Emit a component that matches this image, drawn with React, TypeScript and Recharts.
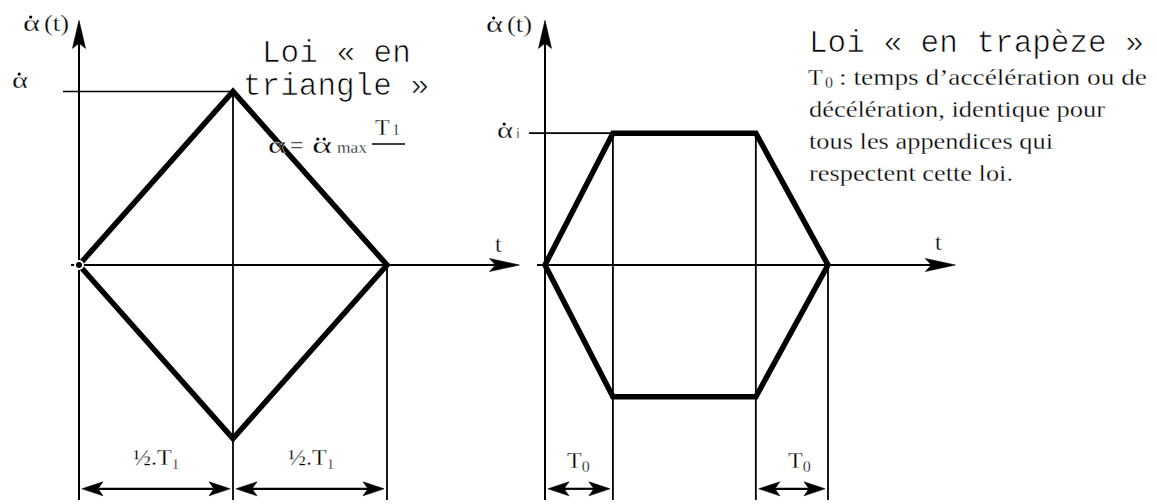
import type { ReactNode } from "react";
import { Line, LineChart, ReferenceLine, XAxis, YAxis } from "recharts";

const SERIF = "Liberation Serif, Tinos, Times New Roman, serif";
const MONO = "Liberation Mono, Cousine, Courier New, monospace";

// Loi « en triangle » : t in units of T1, speed in units of α̇ max
const triangleT = [0, 0.5, 1, 0.5, 0];
const triangleSpeed = [0, 1, 0, -1, 0];

// Loi « en trapèze » : t in units of the whole move, same speed unit
const trapezeT = [0, 0.24, 0.745, 1, 0.745, 0.24, 0];
const trapezeSpeed = [0, 0.76, 0.76, 0, -0.76, -0.76, 0];

// axis ends and dimension-line level, in data units
const AXIS_TOP = 1.41;
const AXIS_BOTTOM = -1.355;
const DIM_LEVEL = -1.29;
const TRIANGLE_T_END = 1.43;
const TRAPEZE_T_END = 1.45;

const H = 504;
const ZERO_Y = 265;
const PX_PER_SPEED = 173.5;
const speedDomain: [number, number] = [-(H - ZERO_Y) / PX_PER_SPEED, ZERO_Y / PX_PER_SPEED];

type ArrowOpts = {
  width: number;
  start?: boolean;
  end?: boolean;
  len?: number;
  half?: number;
  notch?: number;
  inset?: number;
  extendStart?: number;
};

function arrowShape(o: ArrowOpts) {
  return (p: any) => {
    const { x1, y1, x2, y2 } = p;
    const dx = x2 - x1;
    const dy = y2 - y1;
    const L = Math.hypot(dx, dy) || 1;
    const ux = dx / L;
    const uy = dy / L;
    const nx = -uy;
    const ny = ux;
    const inset = o.inset ?? 0;
    const ext = o.extendStart ?? 0;
    const sx = x1 + ux * (inset - ext);
    const sy = y1 + uy * (inset - ext);
    const ex = x2 - ux * inset;
    const ey = y2 - uy * inset;
    const len = o.len ?? 20;
    const half = o.half ?? 6;
    const notch = o.notch ?? 4;
    const head = (tx: number, ty: number, dx1: number, dy1: number) =>
      [
        [tx, ty],
        [tx - len * dx1 + half * nx, ty - len * dy1 + half * ny],
        [tx - (len - notch) * dx1, ty - (len - notch) * dy1],
        [tx - len * dx1 - half * nx, ty - len * dy1 - half * ny],
      ]
        .map((q) => q.join(","))
        .join(" ");
    const cut = len - notch;
    return (
      <g>
        <line
          x1={o.start ? sx + ux * cut : sx}
          y1={o.start ? sy + uy * cut : sy}
          x2={o.end ? ex - ux * cut : ex}
          y2={o.end ? ey - uy * cut : ey}
          stroke="#000"
          strokeWidth={o.width}
        />
        {o.end ? <polygon points={head(ex, ey, ux, uy)} fill="#000" stroke="#000" strokeWidth={0.6} strokeLinejoin="round" /> : null}
        {o.start ? <polygon points={head(sx, sy, -ux, -uy)} fill="#000" stroke="#000" strokeWidth={0.6} strokeLinejoin="round" /> : null}
      </g>
    );
  };
}

type PanelProps = {
  left: number;
  width: number;
  originX: number;
  pxPerT: number;
  ts: number[];
  speeds: number[];
  tEnd: number;
  dims: [number, number][];
};

function LawPanel({ left, width, originX, pxPerT, ts, speeds, tEnd, dims }: PanelProps) {
  const data = ts.map((t, i) => ({ t, v: speeds[i] }));
  const tDomain: [number, number] = [-originX / pxPerT, (width - originX) / pxPerT];
  const peak = Math.max(...speeds);
  const peakT = ts[speeds.indexOf(peak)];
  const guides = data.filter((d, i) => d.t > 0 && d.v >= 0 && ts.indexOf(d.t) === i);

  return (
    <div style={{ position: "absolute", left, top: 0 }}>
      <LineChart width={width} height={H} data={data} margin={{ top: 0, right: 0, bottom: 0, left: 0 }}>
        <XAxis type="number" dataKey="t" domain={tDomain} allowDataOverflow hide />
        <YAxis type="number" domain={speedDomain} allowDataOverflow hide />
        {/* speed axis */}
        <ReferenceLine
          ifOverflow="visible"
          segment={[{ x: 0, y: AXIS_BOTTOM }, { x: 0, y: AXIS_TOP }]}
          shape={arrowShape({ width: 2, end: true, len: 28, half: 6.5, notch: 5 })}
        />
        {/* time axis */}
        <ReferenceLine
          ifOverflow="visible"
          segment={[{ x: 0, y: 0 }, { x: tEnd, y: 0 }]}
          shape={arrowShape({ width: 2, end: true, len: 30, half: 6.5, notch: 6, extendStart: 8 })}
        />
        {/* peak level */}
        <ReferenceLine
          ifOverflow="visible"
          segment={[{ x: 0, y: peak }, { x: peakT, y: peak }]}
          shape={arrowShape({ width: 1.6, extendStart: 16 })}
        />
        {guides.map((g) => (
          <ReferenceLine
            key={g.t}
            ifOverflow="visible"
            segment={[{ x: g.t, y: g.v }, { x: g.t, y: AXIS_BOTTOM }]}
            shape={arrowShape({ width: 1.8 })}
          />
        ))}
        {dims.map(([a, b]) => (
          <ReferenceLine
            key={`${a}-${b}`}
            ifOverflow="visible"
            segment={[{ x: a, y: DIM_LEVEL }, { x: b, y: DIM_LEVEL }]}
            shape={arrowShape({ width: 2.2, start: true, end: true, len: 21, half: 7, notch: 5, inset: 3 })}
          />
        ))}
        <Line
          type="linear"
          dataKey="v"
          stroke="#000"
          strokeWidth={5.5}
          strokeLinejoin="miter"
          strokeLinecap="round"
          strokeMiterlimit={3}
          dot={false}
          isAnimationActive={false}
        />
      </LineChart>
    </div>
  );
}

function Txt({
  x,
  y,
  size = 24,
  family = SERIF,
  len,
  thin = 0.3,
  children,
}: {
  x: number;
  y: number;
  size?: number;
  family?: string;
  len?: number;
  thin?: number;
  children: ReactNode;
}) {
  return (
    <text
      x={x}
      y={y}
      fill="#000"
      textLength={len}
      lengthAdjust={len ? "spacingAndGlyphs" : undefined}
      stroke={thin ? "#fff" : undefined}
      strokeWidth={thin || undefined}
      style={{ fontFamily: family, fontSize: size }}
    >
      {children}
    </text>
  );
}

// α with one or two dots above (time derivatives)
function Alpha({ x, y, w = 16, size = 24, dots = 1 }: { x: number; y: number; w?: number; size?: number; dots?: number }) {
  const cx = x + w * 0.45;
  const cy = y - size * 0.58;
  const offs = dots === 1 ? [0] : [-3.2, 3.2];
  return (
    <g>
      <Txt x={x} y={y} size={size} len={w}>
        α
      </Txt>
      {offs.map((o) => (
        <circle key={o} cx={cx + o} cy={cy} r={1.6} fill="#000" />
      ))}
    </g>
  );
}

export default function App() {
  return (
    <div style={{ position: "absolute", left: 0, top: 0, width: 1157, height: H, background: "#fff" }}>
      <LawPanel
        left={0}
        width={520}
        originX={79}
        pxPerT={308}
        ts={triangleT}
        speeds={triangleSpeed}
        tEnd={TRIANGLE_T_END}
        dims={[
          [triangleT[0], triangleT[1]],
          [triangleT[1], triangleT[2]],
        ]}
      />
      <LawPanel
        left={520}
        width={637}
        originX={25}
        pxPerT={283}
        ts={trapezeT}
        speeds={trapezeSpeed}
        tEnd={TRAPEZE_T_END}
        dims={[
          [trapezeT[0], trapezeT[1]],
          [trapezeT[2], trapezeT[3]],
        ]}
      />
      <svg width={1157} height={H} style={{ position: "absolute", left: 0, top: 0, pointerEvents: "none" }}>
        {/* left diagram */}
        <Alpha x={23} y={31} w={17} />
        <Txt x={44} y={31} len={25}>(t)</Txt>
        <Alpha x={12} y={88} w={16} />
        <Txt x={262} y={62} size={31} family={MONO} thin={0.7}>Loi « en</Txt>
        <Txt x={243} y={95} size={31} family={MONO} thin={0.7}>triangle »</Txt>
        <Alpha x={268} y={153} w={18} />
        <Txt x={290} y={153}>=</Txt>
        <Alpha x={312} y={153} w={20} dots={2} />
        <Txt x={337} y={153} size={16} len={30}>max</Txt>
        <line x1={372} y1={144} x2={405} y2={144} stroke="#000" strokeWidth={1.5} />
        <Txt x={375} y={135}>T</Txt>
        <Txt x={392} y={135} size={16}>1</Txt>
        <Txt x={495} y={252}>t</Txt>
        <Txt x={133} y={465}>
          ½.T<tspan fontSize={15} dy={4}>1</tspan>
        </Txt>
        <Txt x={288} y={465}>
          ½.T<tspan fontSize={15} dy={4}>1</tspan>
        </Txt>

        {/* right diagram */}
        <Alpha x={486} y={32} w={17} />
        <Txt x={507} y={32} len={25}>(t)</Txt>
        <Alpha x={497} y={138} w={16} />
        <Txt x={516} y={138} size={14}>i</Txt>
        <Txt x={935} y={250}>t</Txt>
        <Txt x={567} y={468}>
          T<tspan fontSize={16} dy={4}>0</tspan>
        </Txt>
        <Txt x={788} y={468}>
          T<tspan fontSize={16} dy={4}>0</tspan>
        </Txt>
        <Txt x={809} y={52} size={31} family={MONO} thin={0.7}>Loi « en trapèze »</Txt>
        <Txt x={808} y={85}>T</Txt>
        <Txt x={825} y={88} size={16}>0</Txt>
        <Txt x={839} y={85} len={308}>: temps d’accélération ou de</Txt>
        <Txt x={809} y={117} len={296}>décélération, identique pour</Txt>
        <Txt x={809} y={149} len={244}>tous les appendices qui</Txt>
        <Txt x={809} y={181} len={204}>respectent cette loi.</Txt>
      </svg>
    </div>
  );
}
